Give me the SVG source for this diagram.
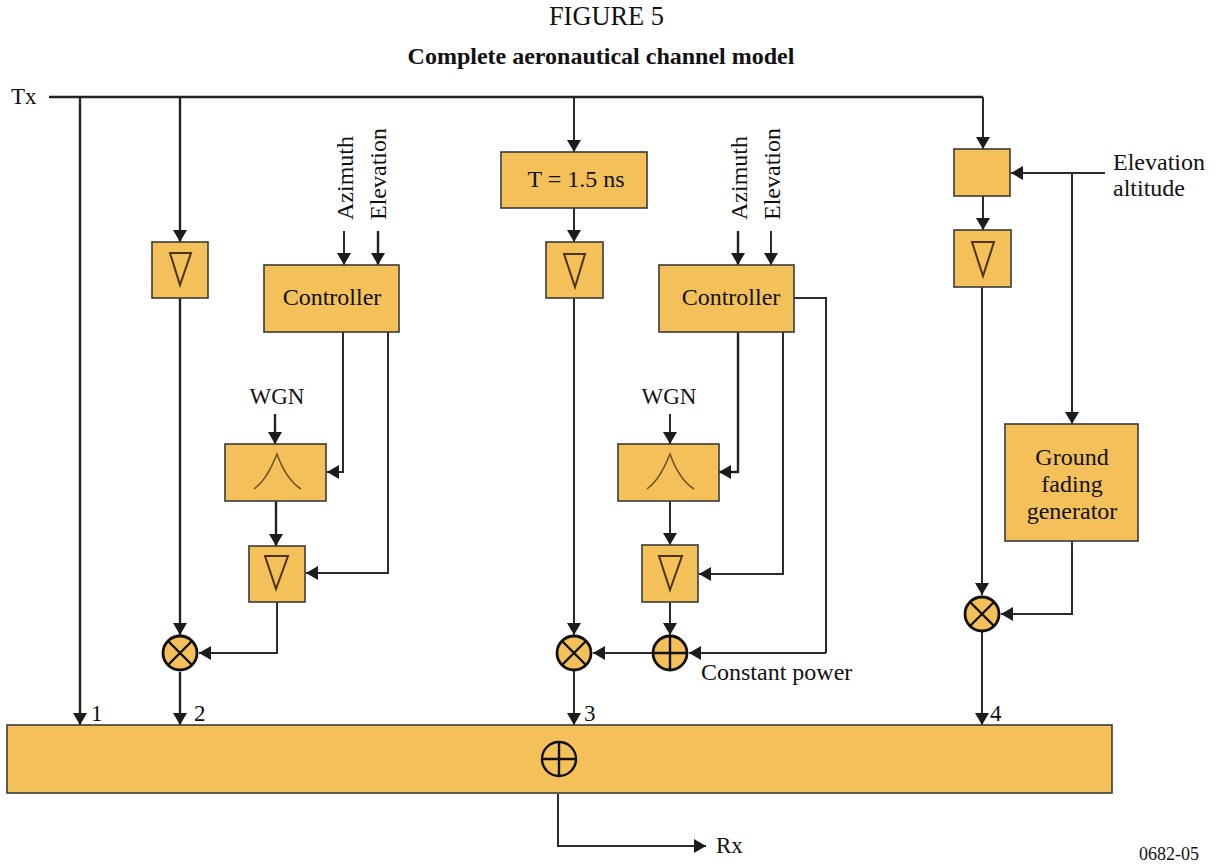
<svg xmlns="http://www.w3.org/2000/svg" width="1215" height="864" viewBox="0 0 1215 864">
<style>
text{font-family:"Liberation Serif","Times New Roman",serif;fill:#111;font-size:24px}
.b{fill:#f3c05a;stroke:#3a3a3a;stroke-width:1.6}
.c{fill:none;stroke:#2b2b2b;stroke-width:2}
.s{fill:none;stroke:#222;stroke-width:2.4}
.t{fill:none;stroke:#4a3413;stroke-width:2}
.p{fill:none;stroke:#6b5020;stroke-width:1.5}
.m{fill:none;stroke:#111;stroke-width:2.4}
.k{fill:#f3c05a;stroke:#111;stroke-width:2.8}
</style>
<defs>
<marker id="a" markerUnits="userSpaceOnUse" markerWidth="13" markerHeight="14" refX="12" refY="7" orient="auto"><path d="M0 0L12 7L0 14Z" fill="#1c1c1c"/></marker>
</defs>
<rect width="1215" height="864" fill="#fff"/>
<text x="606.500" y="25" text-anchor="middle" style="font-size:26.400px;letter-spacing:0">FIGURE 5</text>
<text x="601" y="64" text-anchor="middle" font-weight="bold">Complete aeronautical channel model</text>
<text x="11" y="104" style="font-size:23px">Tx</text>
<g id="connectors">
<path class="s" d="M49 97H983"/>
<path class="s" marker-end="url(#a)" d="M80 97V725"/>
<path class="s" marker-end="url(#a)" d="M180 97V242"/>
<path class="s" marker-end="url(#a)" d="M180 298V635"/>
<path class="s" marker-end="url(#a)" d="M180 672V725"/>
<path class="c" marker-end="url(#a)" d="M344 231V265"/>
<path class="s" marker-end="url(#a)" d="M378 231V265"/>
<path class="c" marker-end="url(#a)" d="M343 332V472H327"/>
<path class="c" marker-end="url(#a)" d="M388 332V573H306"/>
<path class="s" marker-end="url(#a)" d="M275 414V444"/>
<path class="s" marker-end="url(#a)" d="M276 501V546"/>
<path class="c" marker-end="url(#a)" d="M277 602V653H199"/>
<path class="c" marker-end="url(#a)" d="M574 97V152"/>
<path class="c" marker-end="url(#a)" d="M574 208V242"/>
<path class="c" marker-end="url(#a)" d="M574 298V635"/>
<path class="c" marker-end="url(#a)" d="M574 671V725"/>
<path class="s" marker-end="url(#a)" d="M738 231V265"/>
<path class="c" marker-end="url(#a)" d="M771 231V265"/>
<path class="s" marker-end="url(#a)" d="M738 332V472H719"/>
<path class="c" marker-end="url(#a)" d="M783 332V574H699"/>
<path class="c" d="M794 298H826V653"/>
<path class="c" marker-end="url(#a)" d="M826 653H689"/>
<path class="c" marker-end="url(#a)" d="M670 414V444"/>
<path class="c" marker-end="url(#a)" d="M670 501V545"/>
<path class="c" marker-end="url(#a)" d="M670 602V635"/>
<path class="c" marker-end="url(#a)" d="M652 653H593"/>
<path class="c" marker-end="url(#a)" d="M983 97V149"/>
<path class="c" marker-end="url(#a)" d="M983 196V230"/>
<path class="c" marker-end="url(#a)" d="M982 287V595"/>
<path class="c" marker-end="url(#a)" d="M982 632V725"/>
<path class="c" marker-end="url(#a)" d="M1105 173H1011"/>
<path class="c" marker-end="url(#a)" d="M1072 173V424"/>
<path class="c" marker-end="url(#a)" d="M1072 541V614H1001"/>
<path class="c" marker-end="url(#a)" d="M558 794V846H706"/>
</g>
<g id="amp-path2"><rect class="b" x="152" y="242" width="56" height="56"/><path class="t" d="M170 253H191L180 285Z"/></g>
<g id="controller-1"><rect class="b" x="264" y="265" width="135" height="67"/><text x="332" y="305" text-anchor="middle">Controller</text></g>
<g id="label-az1"><text transform="translate(353 220) rotate(-90)">Azimuth</text></g>
<g id="label-el1"><text transform="translate(386 220) rotate(-90)">Elevation</text></g>
<g id="wgn-1"><text x="277" y="404" text-anchor="middle" style="font-size:23px">WGN</text></g>
<g id="filter-1"><rect class="b" x="225" y="444" width="101" height="57"/><path class="p" d="M254 489C266 480 272 466 277 454C282 468 290 482 301 489"/></g>
<g id="amp-1"><rect class="b" x="249" y="546" width="56" height="56"/><path class="t" d="M265 556H288L276 589Z"/></g>
<g id="mult-1"><circle class="k" cx="180" cy="653" r="17"/><path class="m" d="M168 641L192 665M192 641L168 665"/></g>
<g id="delay"><rect class="b" x="501" y="152" width="146" height="56"/><text x="576" y="187" text-anchor="middle">T = 1.5 ns</text></g>
<g id="amp-path3"><rect class="b" x="546" y="242" width="57" height="56"/><path class="t" d="M564 254H585L575 287Z"/></g>
<g id="controller-2"><rect class="b" x="659" y="265" width="135" height="67"/><text x="731" y="305" text-anchor="middle">Controller</text></g>
<g id="label-az2"><text transform="translate(747 220) rotate(-90)">Azimuth</text></g>
<g id="label-el2"><text transform="translate(780 220) rotate(-90)">Elevation</text></g>
<g id="wgn-2"><text x="669" y="404" text-anchor="middle" style="font-size:23px">WGN</text></g>
<g id="filter-2"><rect class="b" x="618" y="444" width="101" height="57"/><path class="p" d="M647 489C659 480 665 466 670 454C675 468 683 482 694 489"/></g>
<g id="amp-2"><rect class="b" x="642" y="545" width="56" height="57"/><path class="t" d="M659 556H682L670 590Z"/></g>
<g id="mult-2"><circle class="k" cx="574" cy="653" r="17"/><path class="m" d="M562 641L586 665M586 641L562 665"/></g>
<g id="sum-2"><circle class="k" cx="670" cy="653" r="17"/><path class="m" d="M653 653H687M670 636V670"/></g>
<g id="label-cp"><text x="701" y="680">Constant power</text></g>
<g id="box-alt"><rect class="b" x="954" y="149" width="56" height="47"/></g>
<g id="amp-path4"><rect class="b" x="954" y="230" width="57" height="57"/><path class="t" d="M972 242H994L983 276Z"/></g>
<g id="label-ea"><text x="1113" y="170">Elevation</text><text x="1113" y="196">altitude</text></g>
<g id="ground-fading"><rect class="b" x="1005" y="424" width="133" height="117"/><text x="1072" y="465" text-anchor="middle">Ground</text><text x="1072" y="492" text-anchor="middle">fading</text><text x="1072" y="519" text-anchor="middle">generator</text></g>
<g id="mult-4"><circle class="k" cx="982" cy="614" r="17"/><path class="m" d="M970 602L994 626M994 602L970 626"/></g>
<g id="summer"><rect class="b" x="7" y="725" width="1105" height="68"/><circle class="m" cx="559" cy="759" r="17"/><path class="m" d="M542 759H576M559 742V776"/></g>
<g id="path-labels"><text x="91" y="721" style="font-size:23px">1</text><text x="194" y="721" style="font-size:23px">2</text><text x="584" y="721" style="font-size:23px">3</text><text x="990" y="721" style="font-size:23px">4</text></g>
<g id="label-rx"><text x="716" y="853" style="font-size:23px">Rx</text></g>
<g id="figure-code"><text x="1139" y="860" style="font-size:18px">0682-05</text></g>
</svg>
